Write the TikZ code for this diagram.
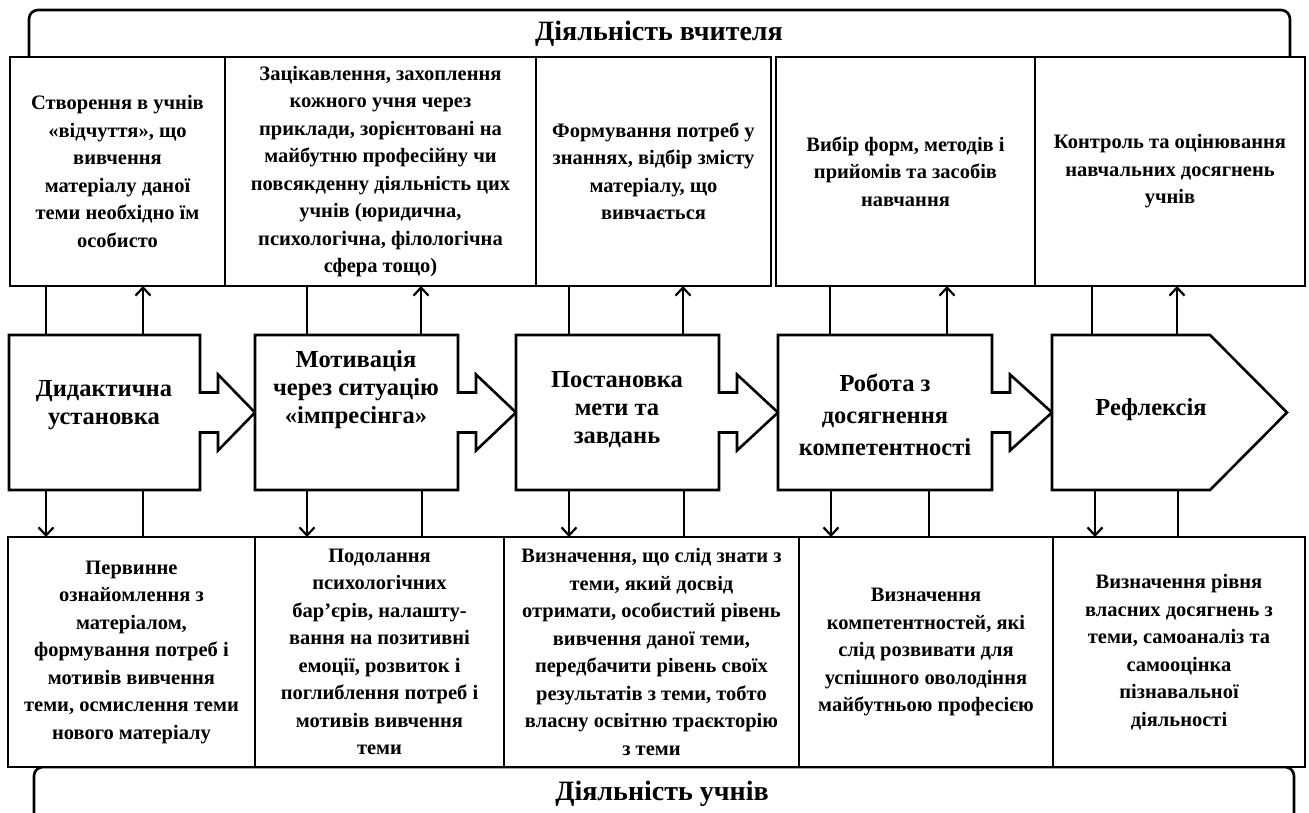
\documentclass[tikz,border=0pt]{standalone}
\usepackage{fontspec}
\setmainfont{Liberation Serif}
\usepackage{tikz}
\usetikzlibrary{arrows.meta,calc,positioning}

\tikzset{
    banner/.style={draw, line width=2.6pt, rounded corners=9pt},
    topbox/.style={draw, line width=2.6pt, fill=white, minimum height=229pt, inner sep=0pt, outer sep=0pt,
        align=center, font=\bfseries\fontsize{20.5}{27.5}\selectfont},
    botbox/.style={draw, line width=2.6pt, fill=white, minimum height=230pt, inner sep=0pt, outer sep=0pt,
        align=center, font=\bfseries\fontsize{20.5}{27.5}\selectfont},
    midbox/.style={minimum height=155pt, inner sep=0pt, outer sep=0pt},
    midtext/.style={align=center, font=\bfseries\fontsize{24.5}{28}\selectfont},
    shapeline/.style={line width=2.6pt, line join=miter, fill=white},
    conn/.style={line width=2.2pt},
    arr/.style={conn, -{Straight Barb[length=8pt,width=15pt]}}
}

\begin{document}
\begin{tikzpicture}[x=1pt,y=-1pt]
    \useasboundingbox (0,0) rectangle (1309,813);

    % Banners
    \draw[banner] (29,100) -- (29,10) -- (1290,10) -- (1290,100);
    \node (teach) at (659,34) {\bfseries\fontsize{28}{30}\selectfont Діяльність вчителя};
    \draw[banner] (34,830) -- (34,767) -- (1294,767) -- (1294,830);
    \node (pupil) at (662,794) {\bfseries\fontsize{28}{30}\selectfont Діяльність учнів};

    % Teacher boxes
    \node[topbox, minimum width=215pt] (t1) at (117.5,171.5) {Створення  в учнів\\«відчуття», що\\вивчення\\матеріалу даної\\теми необхідно їм\\особисто};
    \node[topbox, minimum width=311pt] (t2) at (380.5,171.5) {Зацікавлення, захоплення\\кожного учня через\\приклади, зорієнтовані на\\майбутню професійну чи\\повсякденну діяльність цих\\учнів (юридична,\\психологічна, філологічна\\сфера тощо)};
    \node[topbox, minimum width=235pt] (t3) at (653.5,171.5) {Формування потреб у\\знаннях, відбір змісту\\матеріалу, що\\вивчається};
    \node[topbox, minimum width=259pt] (t4) at (905.5,171.5) {Вибір форм, методів і\\прийомів та засобів\\навчання};
    \node[topbox, minimum width=270pt] (t5) at (1170,171.5) {Контроль та оцінювання\\навчальних досягнень\\учнів};

    % Stages
    \node[midbox, minimum width=191pt] (m1) at (104.5,412.5) {};
    \node[midbox, minimum width=203pt] (m2) at (356.5,412.5) {};
    \node[midbox, minimum width=203pt] (m3) at (617.5,412.5) {};
    \node[midbox, minimum width=214pt] (m4) at (885,412.5) {};
    \node[midbox, minimum width=235pt] (m5) at (1169.5,412.5) {};
    \foreach \a/\b in {m1/m2, m2/m3, m3/m4, m4/m5} {
        \draw[shapeline] (\a.north west) -- (\a.north east) -- ($(\a.east)+(0,-20)$) -- ++(18,0) -- ++(0,-18)
            -- (\b.west) -- ($(\a.east)+(18,38)$) -- ++(0,-18) -- ++(-18,0) -- (\a.south east) -- (\a.south west) -- cycle;
    }
    \draw[shapeline] (m5.north west) -- ++(158,0) -- (m5.east) -- ($(m5.south west)+(158,0)$) -- (m5.south west) -- cycle;
    \node[midtext] (s1) at (104,405) {Дидактична\\установка};
    \node[midtext] (s2) at (356,390) {Мотивація\\через ситуацію\\«імпресінга»};
    \node[midtext] (s3) at (617,410) {Постановка\\мети та\\завдань};
    \node[midtext, font=\bfseries\fontsize{24.5}{32}\selectfont] (s4) at (885,415) {Робота з\\досягнення\\компетентності};
    \node[midtext] (s5) at (1151,410) {Рефлексія};

    % Pupil boxes
    \node[botbox, minimum width=247pt] (b1) at (131.5,652) {Первинне\\ознайомлення з\\матеріалом,\\формування  потреб і\\мотивів вивчення\\теми, осмислення теми\\нового матеріалу};
    \node[botbox, minimum width=249pt] (b2) at (379.5,652) {Подолання\\психологічних\\бар’єрів, налашту-\\вання на позитивні\\емоції, розвиток  і\\поглиблення потреб і\\мотивів вивчення\\теми};
    \node[botbox, minimum width=295pt] (b3) at (651.5,652) {Визначення,  що слід знати з\\теми, який досвід\\отримати, особистий рівень\\вивчення даної теми,\\передбачити рівень своїх\\результатів з теми, тобто\\власну освітню траєкторію\\з теми};
    \node[botbox, minimum width=254pt] (b4) at (926,652) {Визначення\\компетентностей,  які\\слід розвивати для\\успішного оволодіння\\майбутньою професією};
    \node[botbox, minimum width=252pt] (b5) at (1179,652) {Визначення  рівня\\власних досягнень з\\теми, самоаналіз та\\самооцінка\\пізнавальної\\діяльності};

    % Links up
    \foreach \i/\xa/\xb in {1/46/143, 2/307/421, 3/569/683, 4/830/947, 5/1092/1177} {
        \draw[conn] (t\i.south -| \xa,0) -- (m\i.north -| \xa,0);
        \draw[arr] (m\i.north -| \xb,0) -- (t\i.south -| \xb,0);
    }
    % Links down
    \foreach \i/\xa/\xb in {1/46/143, 2/307/422, 3/569/684, 4/831/929, 5/1095/1178} {
        \draw[arr] (m\i.south -| \xa,0) -- (b\i.north -| \xa,0);
        \draw[conn] (m\i.south -| \xb,0) -- (b\i.north -| \xb,0);
    }
\end{tikzpicture}
\end{document}
